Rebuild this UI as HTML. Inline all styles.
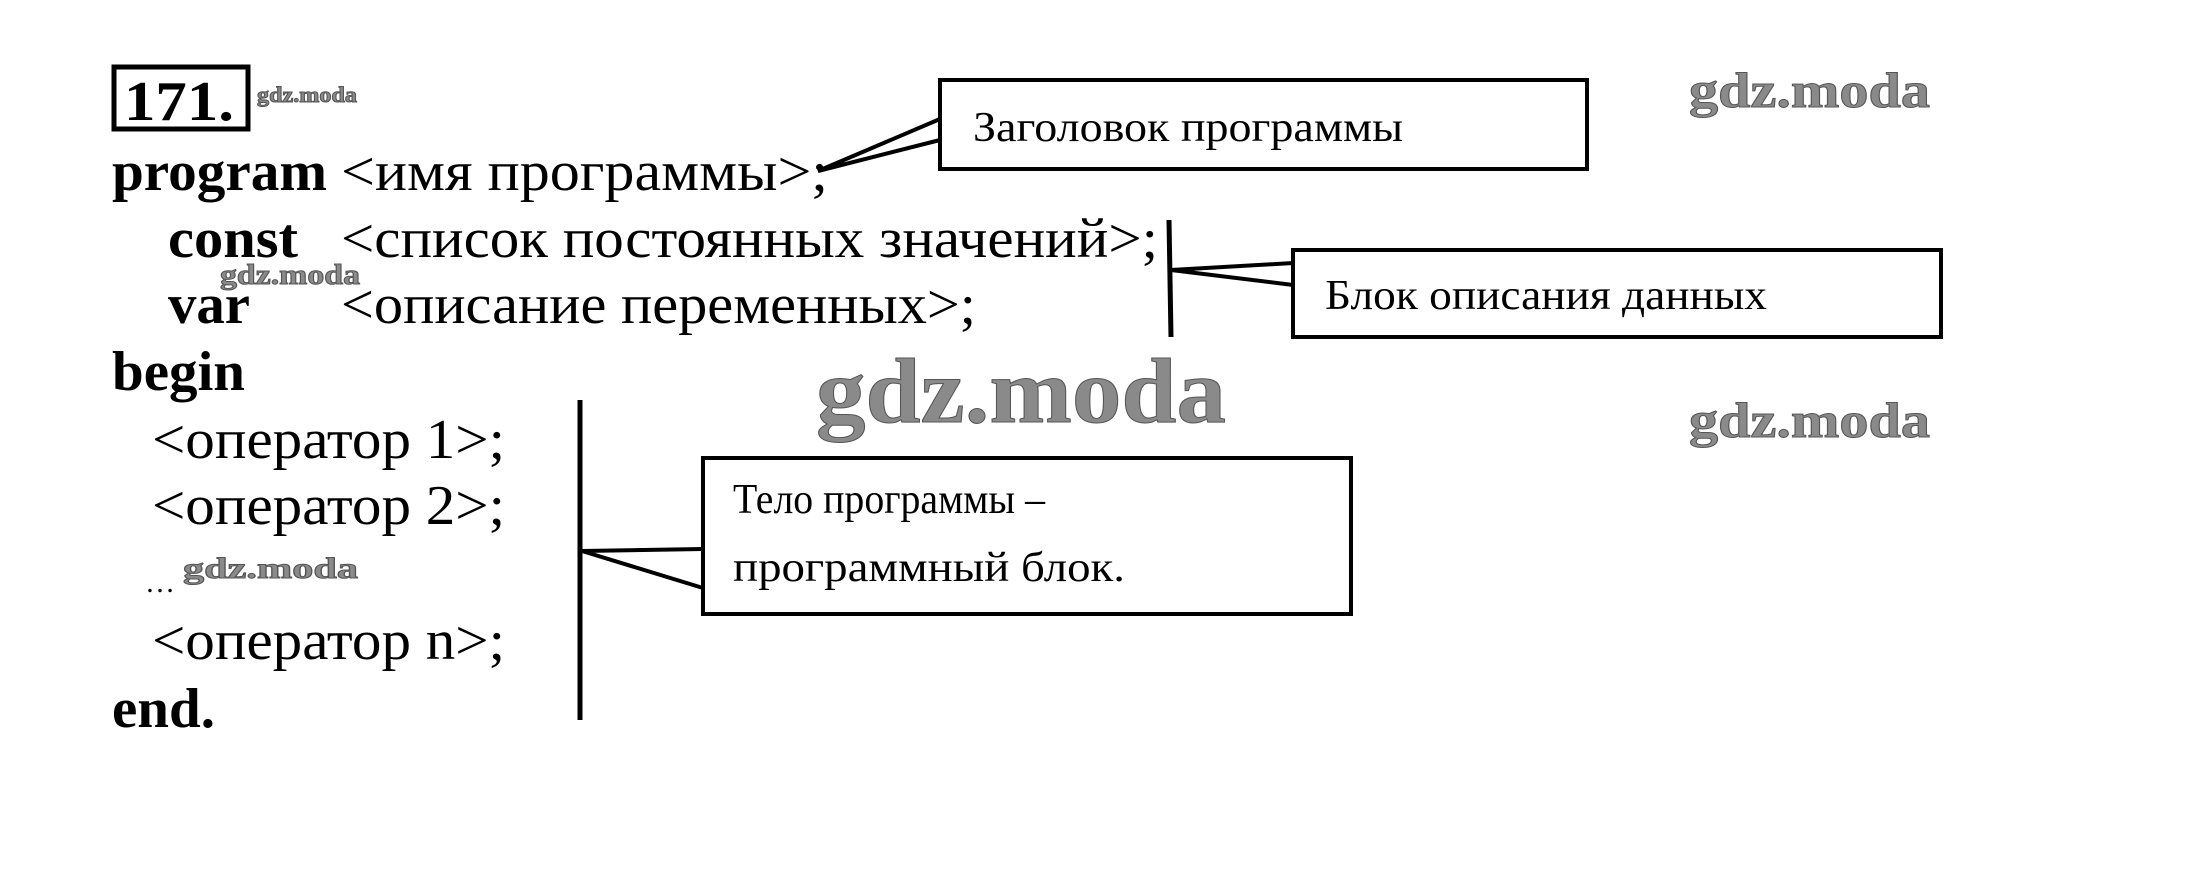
<!DOCTYPE html>
<html><head><meta charset="utf-8"><style>
html,body{margin:0;padding:0;background:#fff;}
svg{display:block}
text{font-family:"Liberation Serif",serif;fill:#000}
.b{font-weight:bold}
.w{font-weight:bold;fill:#8a8a8a;stroke:#555;stroke-width:1}
</style></head><body>
<svg width="2190" height="876" viewBox="0 0 2190 876">
<rect width="2190" height="876" fill="#fff"/>
<rect x="114" y="67" width="134" height="62" fill="none" stroke="#000" stroke-width="5"/>
<text x="124" y="120" class="b" font-size="56" textLength="110" lengthAdjust="spacingAndGlyphs">171.</text>
<text x="257" y="102" class="w" font-size="22" stroke-width="0.4" textLength="100" lengthAdjust="spacingAndGlyphs">gdz.moda</text>

<g font-size="56">
<text x="112" y="190" class="b" textLength="215" lengthAdjust="spacingAndGlyphs">program</text>
<text x="341" y="190" textLength="487" lengthAdjust="spacingAndGlyphs">&lt;имя программы&gt;;</text>
<text x="168" y="257" class="b" textLength="130" lengthAdjust="spacingAndGlyphs">const</text>
<text x="341" y="257" textLength="817" lengthAdjust="spacingAndGlyphs">&lt;список постоянных значений&gt;;</text>
<text x="168" y="323" class="b" textLength="82" lengthAdjust="spacingAndGlyphs">var</text>
<text x="341" y="323" textLength="635" lengthAdjust="spacingAndGlyphs">&lt;описание переменных&gt;;</text>
<text x="112" y="390" class="b" textLength="133" lengthAdjust="spacingAndGlyphs">begin</text>
<text x="152" y="458" textLength="353" lengthAdjust="spacingAndGlyphs">&lt;оператор 1&gt;;</text>
<text x="152" y="524" textLength="353" lengthAdjust="spacingAndGlyphs">&lt;оператор 2&gt;;</text>
<text x="145" y="592" font-size="30">…</text>
<text x="152" y="659" textLength="353" lengthAdjust="spacingAndGlyphs">&lt;оператор n&gt;;</text>
<text x="112" y="727" class="b" textLength="103" lengthAdjust="spacingAndGlyphs">end.</text>
</g>

<text x="220" y="284" class="w" font-size="28" stroke-width="0.4" textLength="140" lengthAdjust="spacingAndGlyphs">gdz.moda</text>
<text x="183" y="578" class="w" font-size="30" stroke-width="0.4" textLength="175" lengthAdjust="spacingAndGlyphs">gdz.moda</text>
<text x="816" y="422" class="w" font-size="92" textLength="410" lengthAdjust="spacingAndGlyphs">gdz.moda</text>
<text x="1689" y="107" class="w" font-size="50" textLength="241" lengthAdjust="spacingAndGlyphs">gdz.moda</text>
<text x="1689" y="437" class="w" font-size="50" textLength="241" lengthAdjust="spacingAndGlyphs">gdz.moda</text>

<rect x="940" y="80" width="647" height="89" fill="#fff" stroke="#000" stroke-width="4"/>
<text x="973" y="141" font-size="42" textLength="430" lengthAdjust="spacingAndGlyphs">Заголовок программы</text>
<polyline points="940,119 818,171 940,140" fill="none" stroke="#000" stroke-width="4"/>

<line x1="1169" y1="220" x2="1171" y2="337" stroke="#000" stroke-width="5"/>
<rect x="1293" y="250" width="648" height="87" fill="#fff" stroke="#000" stroke-width="4"/>
<text x="1325" y="309" font-size="42" textLength="442" lengthAdjust="spacingAndGlyphs">Блок описания данных</text>
<polyline points="1293,263 1171,270 1293,285" fill="none" stroke="#000" stroke-width="4"/>

<line x1="580" y1="400" x2="580" y2="720" stroke="#000" stroke-width="5"/>
<rect x="703" y="458" width="648" height="156" fill="#fff" stroke="#000" stroke-width="4"/>
<text x="733" y="513" font-size="42" textLength="312" lengthAdjust="spacingAndGlyphs">Тело программы –</text>
<text x="733" y="581" font-size="42" textLength="392" lengthAdjust="spacingAndGlyphs">программный блок.</text>
<polyline points="703,549 582,551 703,588" fill="none" stroke="#000" stroke-width="4"/>
</svg>
</body></html>
